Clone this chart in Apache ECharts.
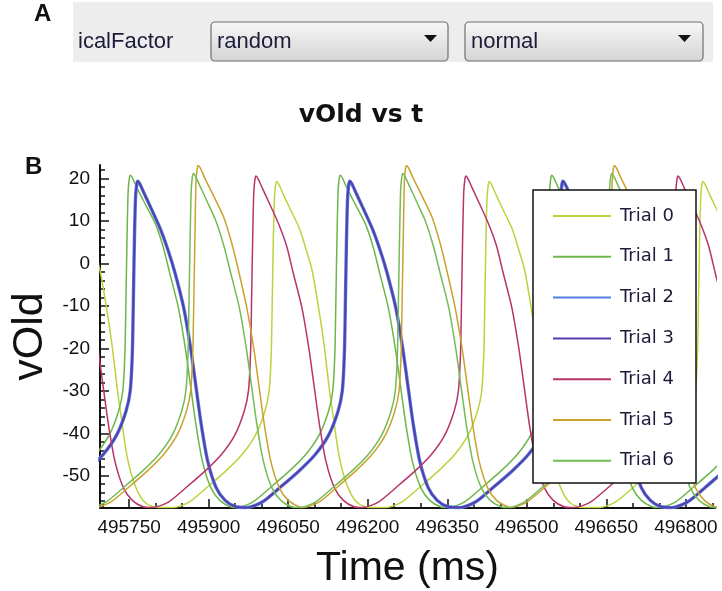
<!DOCTYPE html>
<html>
	<head>
		<meta charset="utf-8">
		<title>vOld vs t</title>
		<style>
			html, body { margin: 0; padding: 0; background: #fff; }
			#main { width: 722px; height: 591px; }
		</style>
	</head>
	<body>
		<div id="main"></div>
		<script src="https://cdn.jsdelivr.net/npm/echarts@6.0.0/dist/echarts.min.js"></script>
		<script type="text/javascript">
			// tick / label positions
			var xTicks = [495700, 495750, 495800, 495850, 495900, 495950, 496000, 496050, 496100, 496150, 496200, 496250,
				496300, 496350, 496400, 496450, 496500, 496550, 496600, 496650, 496700, 496750, 496800, 496850];
			var xLabels = [495750, 495900, 496050, 496200, 496350, 496500, 496650, 496800];
			var yTicks = [-56, -54, -52, -50, -48, -46, -44, -42, -40, -38, -36, -34, -32, -30, -28, -26, -24, -22, -20,
				-18, -16, -14, -12, -10, -8, -6, -4, -2, 0, 2, 4, 6, 8, 10, 12, 14, 16, 18, 20, 22];
			var yLabels = [-50, -40, -30, -20, -10, 0, 10, 20];
			var trialNames = ['Trial 0', 'Trial 1', 'Trial 2', 'Trial 3', 'Trial 4', 'Trial 5', 'Trial 6'];

			// [t (ms), vOld]
			var trial0 = [
				[495653,13.0],[495671,8.3],[495684,3.2],[495695,-1.6],[495708,-11],[495718,-19.5],[495728,-30],[495736,-37],[495744,-44],[495754,-49.6],[495768,-54.2],[495783,-56.6],[495803,-57.5],
				[495833,-57.5],[495863,-56.2],[495898,-52.6],[495933,-48.8],[495963,-45],[495988,-40.5],[496006,-34.8],[496014,-30],[496018,-21],[496020,-8],[496022,6],[496024,15.3],[496026,18.3],[496028,19.3],
				[496032,18.7],[496040,16.5],[496053,13.0],[496071,8.3],[496084,3.2],[496095,-1.6],[496108,-11],[496118,-19.5],[496128,-30],[496136,-37],[496144,-44],[496154,-49.6],[496168,-54.2],[496183,-56.6],[496203,-57.5],
				[496234,-57.5],[496264,-56.2],[496299,-52.6],[496334,-48.8],[496364,-45],[496389,-40.5],[496407,-34.8],[496415,-30],[496419,-21],[496421,-8],[496423,6],[496425,15.3],[496427,18.3],[496429,19.3],
				[496433,18.7],[496441,16.5],[496454,13.0],[496472,8.3],[496485,3.2],[496496,-1.6],[496509,-11],[496519,-19.5],[496529,-30],[496537,-37],[496545,-44],[496555,-49.6],[496569,-54.2],[496584,-56.6],[496604,-57.5],
				[496637,-57.5],[496667,-56.2],[496702,-52.6],[496737,-48.8],[496767,-45],[496792,-40.5],[496810,-34.8],[496818,-30],[496822,-21],[496824,-8],[496826,6],[496828,15.3],[496830,18.3],[496832,19.3],
				[496836,18.7],[496844,16.5],[496857,13.0],[496875,8.3]
			];
			var trial1 = [
				[495657,-48.8],[495687,-45],[495712,-40.5],[495730,-34.8],[495738,-30],[495742,-21],[495744,-8],[495746,6],[495748,16.8],[495750,19.8],[495752,20.8],
				[495756,20.2],[495764,18.0],[495779,14.3],[495799,9.5],[495814,4.0],[495826,-2.0],[495843,-10.5],[495856,-20.0],[495866,-29.0],[495876,-38.0],[495888,-46.5],[495904,-52.8],[495921,-55.8],[495941,-57.3],
				[495953,-57.5],[495983,-56.2],[496018,-52.6],[496053,-48.8],[496083,-45],[496108,-40.5],[496126,-34.8],[496134,-30],[496138,-21],[496140,-8],[496142,6],[496144,16.8],[496146,19.8],[496148,20.8],
				[496152,20.2],[496160,18.0],[496175,14.3],[496195,9.5],[496210,4.0],[496222,-2.0],[496239,-10.5],[496252,-20.0],[496262,-29.0],[496272,-38.0],[496284,-46.5],[496300,-52.8],[496317,-55.8],[496337,-57.3],
				[496352,-57.5],[496382,-56.2],[496417,-52.6],[496452,-48.8],[496482,-45],[496507,-40.5],[496525,-34.8],[496533,-30],[496537,-21],[496539,-8],[496541,6],[496543,16.8],[496545,19.8],[496547,20.8],
				[496551,20.2],[496559,18.0],[496574,14.3],[496594,9.5],[496609,4.0],[496621,-2.0],[496638,-10.5],[496651,-20.0],[496661,-29.0],[496671,-38.0],[496683,-46.5],[496699,-52.8],[496716,-55.8],[496736,-57.3],
				[496750,-57.5],[496780,-56.2],[496815,-52.6],[496850,-48.8],[496880,-45]
			];
			var trial2 = [
				[495671,-48.8],[495701,-45],[495726,-40.5],[495744,-34.8],[495752,-30],[495756,-21],[495758,-8],[495760,6],[495762,15.4],[495764,18.4],[495766,19.4],
				[495770,18.8],[495778,16.6],[495791,13.1],[495809,8.1],[495824,2.9],[495836,-2.0],[495853,-10.5],[495866,-20.0],[495876,-29.0],[495886,-38.0],[495898,-46.5],[495914,-52.8],[495931,-55.8],[495951,-57.3],
				[495971,-57.5],[496001,-56.2],[496036,-52.6],[496071,-48.8],[496101,-45],[496126,-40.5],[496144,-34.8],[496152,-30],[496156,-21],[496158,-8],[496160,6],[496162,15.4],[496164,18.4],[496166,19.4],
				[496170,18.8],[496178,16.6],[496191,13.1],[496209,8.1],[496224,2.9],[496236,-2.0],[496253,-10.5],[496266,-20.0],[496276,-29.0],[496286,-38.0],[496298,-46.5],[496314,-52.8],[496331,-55.8],[496351,-57.3],
				[496373,-57.5],[496403,-56.2],[496438,-52.6],[496473,-48.8],[496503,-45],[496528,-40.5],[496546,-34.8],[496554,-30],[496558,-21],[496560,-8],[496562,6],[496564,15.4],[496566,18.4],[496568,19.4],
				[496572,18.8],[496580,16.6],[496593,13.1],[496611,8.1],[496626,2.9],[496638,-2.0],[496655,-10.5],[496668,-20.0],[496678,-29.0],[496688,-38.0],[496700,-46.5],[496716,-52.8],[496733,-55.8],[496753,-57.3],
				[496773,-57.5],[496803,-56.2],[496838,-52.6],[496873,-48.8]
			];
			// trial 3 sits right on top of trial 2 in the plot
			var trial3 = trial2;
			var trial4 = [
				[495678,-10.5],[495691,-20.0],[495701,-29.0],[495711,-38.0],[495723,-46.5],[495739,-52.8],[495756,-55.8],[495776,-57.3],
				[495794,-57.5],[495824,-56.2],[495859,-52.6],[495894,-48.8],[495924,-45],[495949,-40.5],[495967,-34.8],[495975,-30],[495979,-21],[495981,-8],[495983,6],[495985,16.6],[495987,19.6],[495989,20.6],
				[495993,20.0],[496001,17.8],[496014,14.3],[496032,9.3],[496047,4.1],[496059,-2.0],[496076,-10.5],[496089,-20.0],[496099,-29.0],[496109,-38.0],[496121,-46.5],[496137,-52.8],[496154,-55.8],[496174,-57.3],
				[496190,-57.5],[496220,-56.2],[496255,-52.6],[496290,-48.8],[496320,-45],[496345,-40.5],[496363,-34.8],[496371,-30],[496375,-21],[496377,-8],[496379,6],[496381,16.6],[496383,19.6],[496385,20.6],
				[496389,20.0],[496397,17.8],[496410,14.3],[496428,9.3],[496443,4.1],[496455,-2.0],[496472,-10.5],[496485,-20.0],[496495,-29.0],[496505,-38.0],[496517,-46.5],[496533,-52.8],[496550,-55.8],[496570,-57.3],
				[496590,-57.5],[496620,-56.2],[496655,-52.6],[496690,-48.8],[496720,-45],[496745,-40.5],[496763,-34.8],[496771,-30],[496775,-21],[496777,-8],[496779,6],[496781,16.6],[496783,19.6],[496785,20.6],
				[496789,20.0],[496797,17.8],[496810,14.3],[496828,9.3],[496843,4.1],[496855,-2.0],[496872,-10.5]
			];
			var trial5 = [
				[495657,-55.8],[495677,-57.3],
				[495685,-57.5],[495715,-56.2],[495750,-52.6],[495785,-48.8],[495815,-45],[495840,-40.5],[495858,-34.8],[495866,-30],[495870,-21],[495872,-8],[495874,6],[495876,19.1],[495878,22.1],[495880,23.1],
				[495884,22.5],[495892,20.3],[495907,16.5],[495928,11.0],[495943,5.0],[495955,-1.0],[495972,-10.5],[495985,-20.0],[495995,-29.0],[496005,-38.0],[496017,-46.5],[496033,-52.8],[496050,-55.8],[496070,-57.3],
				[496078,-57.5],[496108,-56.2],[496143,-52.6],[496178,-48.8],[496208,-45],[496233,-40.5],[496251,-34.8],[496259,-30],[496263,-21],[496265,-8],[496267,6],[496269,19.1],[496271,22.1],[496273,23.1],
				[496277,22.5],[496285,20.3],[496300,16.5],[496321,11.0],[496336,5.0],[496348,-1.0],[496365,-10.5],[496378,-20.0],[496388,-29.0],[496398,-38.0],[496410,-46.5],[496426,-52.8],[496443,-55.8],[496463,-57.3],
				[496470,-57.5],[496500,-56.2],[496535,-52.6],[496570,-48.8],[496600,-45],[496625,-40.5],[496643,-34.8],[496651,-30],[496655,-21],[496657,-8],[496659,6],[496661,19.1],[496663,22.1],[496665,23.1],
				[496669,22.5],[496677,20.3],[496692,16.5],[496713,11.0],[496728,5.0],[496740,-1.0],[496757,-10.5],[496770,-20.0],[496780,-29.0],[496790,-38.0],[496802,-46.5],[496818,-52.8],[496835,-55.8],[496855,-57.3],[496870,-57.5]
			];
			var trial6 = [
				[495661,-57.3],
				[495676,-57.5],[495706,-56.2],[495741,-52.6],[495776,-48.8],[495806,-45],[495831,-40.5],[495849,-34.8],[495857,-30],[495861,-21],[495863,-8],[495865,6],[495867,17.2],[495869,20.2],[495871,21.2],
				[495875,20.6],[495883,18.4],[495896,14.9],[495914,9.9],[495929,4.0],[495941,-2.0],[495958,-10.5],[495971,-20.0],[495981,-29.0],[495991,-38.0],[496003,-46.5],[496019,-52.8],[496036,-55.8],[496056,-57.3],
				[496071,-57.5],[496101,-56.2],[496136,-52.6],[496171,-48.8],[496201,-45],[496226,-40.5],[496244,-34.8],[496252,-30],[496256,-21],[496258,-8],[496260,6],[496262,17.2],[496264,20.2],[496266,21.2],
				[496270,20.6],[496278,18.4],[496291,14.9],[496309,9.9],[496324,4.0],[496336,-2.0],[496353,-10.5],[496366,-20.0],[496376,-29.0],[496386,-38.0],[496398,-46.5],[496414,-52.8],[496431,-55.8],[496451,-57.3],
				[496465,-57.5],[496495,-56.2],[496530,-52.6],[496565,-48.8],[496595,-45],[496620,-40.5],[496638,-34.8],[496646,-30],[496650,-21],[496652,-8],[496654,6],[496656,17.2],[496658,20.2],[496660,21.2],
				[496664,20.6],[496672,18.4],[496685,14.9],[496703,9.9],[496718,4.0],[496730,-2.0],[496747,-10.5],[496760,-20.0],[496770,-29.0],[496780,-38.0],[496792,-46.5],[496808,-52.8],[496825,-55.8],[496845,-57.3],[496865,-57.5]
			];
			var trialData = [trial0, trial1, trial2, trial3, trial4, trial5, trial6];
			var trialColors = ['#bfd23e', '#6cb54a', '#4f7ee0', '#5a3aa8', '#b8336a', '#c9a22e', '#73bb55'];
			var trialWidths = [1.5, 1.5, 3.4, 1.8, 1.5, 1.5, 1.5];

			var chartDom = document.getElementById('main');
			var myChart = echarts.init(chartDom);

			var series = [];
			for (var i = 0; i < trialNames.length; i++) {
				series.push({
					name: trialNames[i],
					type: 'line',
					data: trialData[i],
					symbol: 'none',
					showSymbol: false,
					smooth: 0.25,
					clip: true,
					color: trialColors[i],
					lineStyle: { width: trialWidths[i], color: trialColors[i] }
				});
			}

			var font = 'Liberation Sans, Arial, sans-serif';
			function plain(v) { return String(v); }

			var option = {
				animation: false,
				backgroundColor: '#fff',
				title: {
					text: 'vOld vs t',
					left: 'center',
					top: 98,
					textStyle: { fontFamily: 'DejaVu Sans', fontWeight: 'bold', fontSize: 25, color: '#111' }
				},
				// keep the plot box where it is, names may run near the edge
				grid: { left: 100, top: 165, width: 615, height: 343, outerBoundsMode: 'none', containLabel: false },
				legend: {
					data: trialNames,
					orient: 'vertical',
					left: 553,
					top: 207,
					icon: 'rect',
					itemWidth: 58,
					itemHeight: 2,
					itemGap: 22.8,
					padding: 0,
					z: 10,
					selectedMode: false,
					textStyle: { fontFamily: 'DejaVu Sans', fontSize: 18, color: '#1c1c3a', padding: [0, 0, 0, 4] }
				},
				xAxis: [{
					type: 'value',
					min: 495695,
					max: 496855,
					name: 'Time (ms)',
					nameLocation: 'middle',
					nameGap: 40,
					nameTextStyle: { fontFamily: font, fontSize: 41, color: '#111' },
					axisLine: { show: true, onZero: false, lineStyle: { color: '#111', width: 2 } },
					axisTick: { show: true, inside: true, length: 5, customValues: xTicks, lineStyle: { color: '#111', width: 1.5 } },
					axisLabel: { customValues: xLabels, formatter: plain, fontFamily: font, fontSize: 19, color: '#111', margin: 10 },
					splitLine: { show: false }
				}, {
					type: 'value',
					min: 495695,
					max: 496855,
					position: 'bottom',
					axisLine: { show: false, onZero: false },
					axisTick: { show: true, inside: true, length: 9, customValues: xLabels, lineStyle: { color: '#111', width: 1.5 } },
					axisLabel: { show: false },
					splitLine: { show: false }
				}],
				yAxis: [{
					type: 'value',
					min: -57.6,
					max: 23.2,
					name: 'vOld',
					nameLocation: 'middle',
					nameGap: 40,
					nameTextStyle: { fontFamily: font, fontSize: 43, color: '#111' },
					axisLine: { show: true, onZero: false, lineStyle: { color: '#111', width: 2 } },
					axisTick: { show: true, inside: true, length: 5, customValues: yTicks, lineStyle: { color: '#111', width: 1.5 } },
					axisLabel: { customValues: yLabels, fontFamily: font, fontSize: 19, color: '#111', margin: 10 },
					splitLine: { show: false }
				}, {
					type: 'value',
					min: -57.6,
					max: 23.2,
					position: 'left',
					axisLine: { show: false, onZero: false },
					axisTick: { show: true, inside: true, length: 9, customValues: yLabels, lineStyle: { color: '#111', width: 1.5 } },
					axisLabel: { show: false },
					splitLine: { show: false }
				}],
				graphic: [
					// panel A: the control strip
					{ type: 'rect', shape: { x: 73, y: 2, width: 640, height: 60 }, style: { fill: '#ededed' }, z: 1 },
					{ type: 'text', x: 78, y: 42, style: { text: 'icalFactor', font: '22px "Liberation Sans"', fill: '#1c1c3a', verticalAlign: 'middle' }, z: 2 },
					{ type: 'rect', shape: { x: 211, y: 22, width: 237, height: 39, r: 4 }, style: {
						fill: new echarts.graphic.LinearGradient(0, 0, 0, 1, [{ offset: 0, color: '#f7f7f7' }, { offset: 1, color: '#d4d4d4' }]),
						stroke: '#6f6f6f', lineWidth: 1.2 }, z: 2 },
					{ type: 'text', x: 217, y: 42, style: { text: 'random', font: '22px "Liberation Sans"', fill: '#1c1c3a', verticalAlign: 'middle' }, z: 3 },
					{ type: 'polygon', shape: { points: [[424, 35], [437, 35], [430.5, 42]] }, style: { fill: '#111' }, z: 3 },
					{ type: 'rect', shape: { x: 465, y: 22, width: 238, height: 39, r: 4 }, style: {
						fill: new echarts.graphic.LinearGradient(0, 0, 0, 1, [{ offset: 0, color: '#f7f7f7' }, { offset: 1, color: '#d4d4d4' }]),
						stroke: '#6f6f6f', lineWidth: 1.2 }, z: 2 },
					{ type: 'text', x: 471, y: 42, style: { text: 'normal', font: '22px "Liberation Sans"', fill: '#1c1c3a', verticalAlign: 'middle' }, z: 3 },
					{ type: 'polygon', shape: { points: [[678, 35], [691, 35], [684.5, 42]] }, style: { fill: '#111' }, z: 3 },
					// panel letters
					{ type: 'text', x: 34, y: 2, style: { text: 'A', font: 'bold 24px "Liberation Sans"', fill: '#111' }, z: 3 },
					{ type: 'text', x: 25, y: 155, style: { text: 'B', font: 'bold 24px "Liberation Sans"', fill: '#111' }, z: 3 },
					// legend frame
					{ type: 'rect', shape: { x: 533, y: 190, width: 163, height: 293 }, style: { fill: '#fff', stroke: '#111', lineWidth: 1.5 }, z: 8 }
				],
				series: series
			};
			myChart.setOption(option);
		</script>
	</body>
</html>
